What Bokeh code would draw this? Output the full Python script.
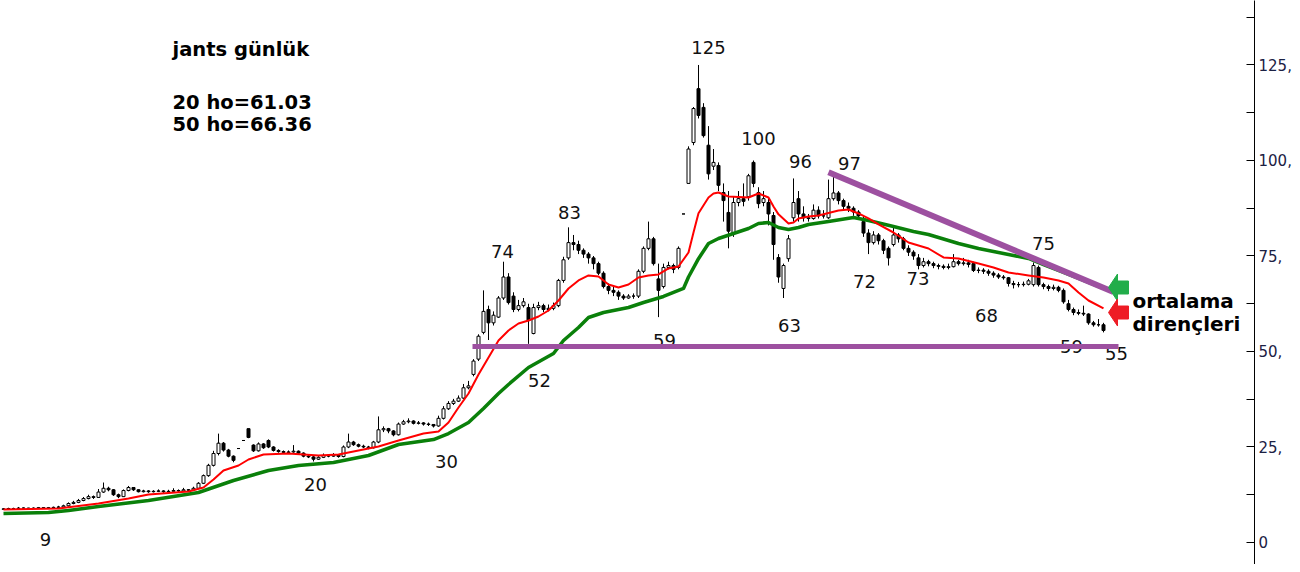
from bokeh.plotting import figure
from bokeh.models import ColumnDataSource, Range1d, FixedTicker
from bokeh.core.properties import value
from bokeh.embed import file_html
from bokeh.resources import INLINE

# ---------------- data (daily candles) ----------------
opens = [
    8.7, 8.8, 8.9, 8.9, 9.0, 9.0, 8.9, 9.0, 9.1, 9.0,
    9.1, 9.2, 9.3, 9.6, 10.2, 10.5, 11.0, 11.5, 12.0, 11.8,
    13.2, 14.2, 13.8, 12.5, 12.0, 13.6, 14.4, 13.8, 13.3, 13.5,
    13.3, 13.4, 13.5, 13.3, 13.4, 13.6, 13.5, 13.8, 13.7, 14.2,
    15.5, 17.5, 20.2, 23.3, 26.0, 24.2, 22.6, 24.6, 26.7, 29.8,
    25.5, 24.0, 25.8, 26.7, 25.0, 24.1, 23.8, 23.6, 23.7, 23.9,
    23.4, 22.6, 22.4, 21.8, 22.3, 22.8, 22.6, 22.9, 22.5, 25.0,
    26.3, 25.6, 25.2, 25.0, 24.8, 26.3, 29.5, 29.8, 29.2, 28.2,
    31.0, 31.6, 31.8, 31.2, 31.3, 31.0, 30.9, 30.5, 32.5, 35.0,
    36.4, 37.0, 37.8, 40.5, 44.0, 48.0, 55.0, 61.0, 57.5, 59.0,
    64.0, 69.5, 64.5, 61.0, 62.0, 61.5, 54.7, 61.5, 62.0, 61.0,
    61.3, 62.0, 68.6, 74.5, 78.5, 78.0, 76.5, 75.5, 74.5, 73.0,
    70.5, 67.0, 66.0, 65.5, 64.5, 64.0, 64.5, 64.5, 71.0, 77.0,
    79.5, 69.0, 67.0, 72.0, 72.5, 72.0, 86.0, 94.0, 104.7, 118.8,
    113.9, 104.0, 98.5, 98.7, 91.6, 86.4, 81.0, 89.0, 90.0, 90.5,
    99.5, 91.6, 89.0, 89.0, 85.6, 74.6, 66.5, 74.3, 85.0, 90.0,
    86.0, 85.0, 84.8, 87.0, 85.5, 85.0, 90.0, 91.5, 89.5, 88.0,
    87.5, 86.5, 84.0, 81.0, 78.5, 80.5, 79.0, 77.0, 78.0, 80.5,
    79.5, 77.0, 76.0, 74.5, 72.5, 73.5, 73.0, 72.5, 72.3, 72.0,
    72.2, 73.5, 73.0, 73.2, 73.0, 71.2, 71.3, 71.0, 70.5, 70.0,
    69.5, 69.3, 67.8, 67.5, 67.5, 67.6, 67.5, 72.0, 67.5, 67.0,
    66.5, 66.8, 66.0, 62.5, 61.0, 60.2, 60.0, 59.8, 57.5, 57.0,
    57.0,
]
highs = [
    9.0, 9.1, 9.1, 9.3, 9.2, 9.1, 9.2, 9.3, 9.2, 9.3,
    9.4, 9.6, 9.9, 10.5, 10.9, 11.4, 11.9, 12.5, 12.3, 14.0,
    15.7, 14.6, 14.0, 12.8, 13.9, 14.8, 14.5, 13.9, 13.8, 13.7,
    13.7, 13.9, 13.7, 13.8, 14.2, 13.9, 14.3, 14.0, 14.6, 15.8,
    17.8, 20.6, 24.0, 28.5, 26.3, 24.5, 22.8, 24.6, 26.7, 29.8,
    25.7, 26.2, 26.0, 27.0, 25.2, 24.4, 24.1, 24.1, 25.5, 24.1,
    23.6, 23.0, 22.7, 22.6, 23.3, 23.1, 23.4, 22.9, 25.4, 28.5,
    26.6, 25.9, 25.6, 25.3, 26.6, 33.0, 30.4, 30.0, 29.4, 31.4,
    32.1, 32.5, 32.0, 31.8, 31.5, 31.4, 31.0, 33.2, 35.7, 37.0,
    37.6, 38.5, 41.5, 42.3, 48.0, 54.5, 66.0, 62.0, 60.5, 64.5,
    73.5, 70.5, 65.5, 63.5, 64.0, 62.5, 62.5, 63.0, 62.5, 62.3,
    62.8, 69.0, 74.8, 82.5, 80.5, 79.0, 77.0, 76.0, 75.0, 73.5,
    71.0, 67.8, 67.0, 66.0, 65.0, 65.0, 65.2, 71.5, 77.5, 84.0,
    80.0, 73.0, 73.0, 73.5, 73.0, 77.5, 86.0, 103.7, 114.0, 125.0,
    115.0, 109.0, 103.0, 99.5, 94.0, 92.0, 90.5, 92.0, 94.0, 96.5,
    100.0, 93.0, 92.0, 90.0, 86.5, 75.5, 73.0, 80.5, 95.3, 92.0,
    88.0, 86.0, 88.5, 88.0, 87.0, 95.0, 96.3, 92.0, 90.0, 89.0,
    88.0, 87.0, 85.5, 82.0, 81.5, 81.0, 79.5, 77.5, 83.0, 81.0,
    80.0, 77.8, 76.5, 75.5, 74.5, 74.0, 73.5, 73.0, 72.8, 73.0,
    75.5, 74.0, 74.5, 74.0, 73.5, 72.0, 71.8, 71.5, 71.0, 70.5,
    70.0, 69.5, 68.5, 68.2, 68.3, 69.0, 73.3, 72.5, 68.0, 67.5,
    67.5, 67.2, 66.5, 63.5, 61.5, 61.0, 62.0, 60.0, 58.0, 58.5,
    57.5,
]
lows = [
    8.6, 8.7, 8.7, 8.8, 8.8, 8.7, 8.8, 8.9, 8.8, 8.9,
    9.0, 9.1, 9.2, 9.4, 10.0, 10.3, 10.8, 11.3, 11.4, 11.7,
    13.0, 13.4, 12.2, 11.6, 11.9, 13.4, 13.5, 13.1, 13.1, 13.0,
    13.1, 13.2, 13.0, 13.1, 13.3, 13.2, 13.4, 13.4, 13.6, 14.1,
    15.3, 17.2, 19.9, 22.8, 23.8, 22.3, 21.0, 24.6, 26.7, 27.3,
    23.7, 23.8, 24.5, 24.7, 23.8, 23.5, 23.3, 23.4, 23.5, 23.1,
    22.3, 22.1, 21.2, 21.6, 22.1, 22.3, 22.4, 22.2, 22.3, 24.7,
    25.3, 24.9, 24.7, 24.4, 24.6, 26.0, 28.9, 28.6, 27.8, 28.0,
    30.8, 31.2, 30.9, 30.9, 30.6, 30.5, 30.1, 30.3, 32.2, 34.7,
    36.0, 36.8, 37.6, 40.1, 43.5, 47.5, 54.5, 53.0, 56.8, 58.8,
    63.5, 62.3, 60.3, 60.5, 61.5, 52.0, 54.5, 60.8, 60.3, 60.5,
    60.8, 61.6, 68.0, 74.0, 76.5, 75.5, 74.5, 73.0, 71.5, 70.0,
    66.5, 65.0, 64.5, 63.5, 63.5, 63.8, 63.8, 64.0, 70.5, 76.5,
    72.5, 59.0, 66.5, 71.5, 70.5, 71.5, 86.0, 94.0, 104.0, 111.0,
    106.0, 95.0, 97.5, 92.0, 84.0, 77.0, 80.0, 88.0, 88.0, 89.5,
    93.0, 87.5, 88.0, 83.0, 74.0, 68.0, 64.0, 73.5, 84.0, 84.0,
    84.0, 84.0, 84.5, 84.8, 84.8, 84.7, 89.5, 88.5, 87.0, 86.5,
    85.5, 84.8, 80.0, 75.5, 78.0, 78.0, 75.5, 72.5, 77.5, 78.5,
    76.5, 75.0, 74.0, 71.5, 72.0, 72.3, 71.8, 71.5, 71.5, 71.5,
    72.0, 72.5, 72.5, 72.0, 70.8, 70.5, 70.3, 69.8, 69.3, 69.0,
    68.8, 67.0, 66.5, 66.8, 67.0, 67.3, 67.0, 67.0, 66.3, 65.8,
    66.0, 65.5, 62.5, 60.5, 59.5, 59.5, 59.3, 57.0, 56.5, 56.5,
    55.0,
]
closes = [
    8.8, 8.9, 8.9, 9.0, 9.0, 8.9, 9.0, 9.1, 9.0, 9.1,
    9.2, 9.3, 9.6, 10.2, 10.5, 11.0, 11.5, 12.0, 11.8, 13.2,
    14.2, 13.8, 12.5, 12.0, 13.6, 14.4, 13.8, 13.3, 13.5, 13.3,
    13.4, 13.5, 13.3, 13.4, 13.6, 13.5, 13.8, 13.7, 14.2, 15.5,
    17.5, 20.2, 23.3, 26.0, 24.2, 22.6, 21.5, 24.6, 26.7, 27.5,
    24.0, 25.8, 24.8, 25.0, 24.1, 23.8, 23.6, 23.7, 23.9, 23.4,
    22.6, 22.4, 21.8, 22.3, 22.8, 22.6, 22.9, 22.5, 25.0, 26.3,
    25.6, 25.2, 25.0, 24.8, 26.3, 29.5, 29.8, 29.2, 28.2, 31.0,
    31.6, 31.8, 31.2, 31.3, 31.0, 30.9, 30.5, 32.5, 35.0, 36.4,
    37.0, 37.8, 40.5, 41.0, 47.5, 54.0, 60.5, 57.5, 59.5, 64.0,
    69.5, 62.8, 61.0, 62.0, 63.0, 58.1, 61.5, 62.0, 61.0, 61.3,
    62.0, 68.6, 74.0, 78.5, 78.0, 76.5, 75.5, 74.5, 73.0, 70.5,
    67.0, 66.0, 65.5, 64.5, 64.0, 64.5, 64.5, 71.0, 77.0, 79.5,
    73.0, 66.0, 72.0, 72.5, 71.5, 77.0, 86.0, 103.0, 113.6, 111.8,
    106.5, 96.5, 99.5, 93.5, 89.5, 81.5, 89.0, 90.0, 89.3, 96.0,
    94.0, 88.7, 90.0, 86.0, 78.0, 69.5, 72.5, 79.5, 89.0, 86.0,
    85.0, 84.8, 87.0, 85.5, 85.5, 90.0, 91.5, 89.5, 88.0, 87.5,
    86.5, 85.5, 81.0, 78.5, 80.5, 79.0, 76.5, 74.5, 80.5, 79.5,
    77.0, 76.0, 75.0, 72.5, 73.5, 73.0, 72.5, 72.3, 72.0, 72.2,
    73.5, 73.0, 73.2, 72.8, 71.2, 71.3, 71.0, 70.5, 70.0, 69.5,
    69.3, 67.8, 67.5, 67.5, 67.6, 68.5, 72.5, 67.5, 67.0, 66.5,
    66.8, 66.0, 63.0, 61.0, 60.2, 60.0, 59.8, 57.5, 57.0, 57.0,
    55.5,
]

# 20-day moving average (bar index, value)
ma20_bar = [0, 11, 19, 25, 29, 37, 40, 42, 44, 47, 49, 52, 57, 63, 67, 71, 75, 79,
            84, 87, 89, 91, 93, 95, 97, 99, 101, 103, 105, 107, 109, 111, 113, 115,
            117, 119, 121, 123, 125, 127, 129, 131, 133, 135, 137, 138, 139, 141,
            142, 143, 145, 149, 151, 153, 154, 155, 157, 158, 159, 161, 163, 167,
            169, 171, 173, 175, 178, 181, 185, 188, 191, 195, 198, 201, 205, 208,
            211, 213, 215, 217, 220]
ma20 = [8.64, 8.90, 10.21, 11.52, 12.57, 13.35, 14.40, 16.49, 18.85, 20.16,
        21.73, 23.04, 23.30, 22.77, 23.04, 24.08, 25.13, 26.70, 28.53, 29.06,
        31.41, 35.34, 39.01, 43.98, 48.43, 52.88, 55.50, 57.33, 58.12, 59.16,
        60.73, 63.35, 66.49, 68.59, 69.90, 69.63, 67.54, 66.75, 67.54, 69.37,
        69.90, 70.16, 71.73, 72.25, 75.92, 81.15, 86.20, 90.31, 91.36, 91.62,
        90.58, 90.31, 91.36, 90.31, 87.96, 85.90, 83.51, 83.77, 84.82, 85.34,
        85.60, 86.91, 87.17, 86.13, 84.82, 83.25, 81.15, 78.53, 76.96, 74.61,
        74.35, 73.04, 71.99, 70.68, 69.90, 69.37, 68.59, 67.80, 65.45, 63.35,
        61.26]
# 50-day moving average (bar index, value)
ma50_bar = [0, 9, 13, 19, 29, 39, 46, 53, 59, 66, 73, 79, 86, 89, 93, 96, 99, 101,
            105, 110, 112, 115, 117, 120, 123, 125, 128, 132, 136, 137, 139, 141,
            143, 146, 149, 151, 153, 155, 157, 159, 161, 165, 170, 173, 178, 182,
            185, 189, 191, 195, 199, 202, 205, 208, 212, 216, 220]
ma50 = [7.59, 7.85, 8.38, 9.42, 10.99, 13.09, 16.23, 18.85, 20.16, 20.94,
        22.77, 25.65, 26.96, 28.53, 31.41, 35.08, 39.01, 41.36, 45.81, 49.48,
        52.88, 56.28, 58.90, 60.21, 60.99, 61.52, 62.83, 64.40, 66.49, 69.50,
        74.30, 78.27, 79.58, 80.89, 82.20, 83.51, 83.77, 82.46, 81.94, 82.46,
        83.25, 84.03, 85.08, 84.29, 82.72, 81.41, 80.63, 79.06, 78.27, 76.96,
        75.92, 75.13, 74.35, 72.77, 70.68, 68.59, 66.49]

# axis ticks
tick_values = [0, 25, 50, 75, 100, 125]
tick_labels = ["0", "25,", "50,", "75,", "100,", "125,"]
minor_values = [12.5, 37.5, 62.5, 87.5, 112.5, 137.5]

# price annotations (label, bar index, price level of the text centre)
note_text = ["125", "100", "96", "97", "74", "83", "59", "63", "72", "73",
             "68", "75", "59", "55", "52", "30", "20", "9"]
note_x = [141.0, 151.0, 159.4, 169.2, 99.8, 113.2, 132.2, 157.2, 172.2, 182.9,
          196.6, 208.0, 213.6, 222.6, 107.2, 88.6, 62.4, 8.4]
note_y = [129.7, 105.8, 99.8, 99.3, 76.3, 86.5, 53.0, 56.9, 68.4, 69.2,
          59.3, 78.4, 51.4, 49.6, 42.5, 21.3, 15.3, 0.9]

# trend lines (bar index, price)
support_x = [93.8, 223.0]
support_y = [51.3, 51.3]
resist_x = [165.0, 222.0]
resist_y = [96.9, 65.6]

# title block
title_lines = ["jants günlük", "20 ho=61.03", "50 ho=66.36"]
title_x = 33.8
title_y = [129.06, 115.18, 109.55]

# arrows pointing at MA resistances
arrow_tip_x = 221.0
arrow_tip_y = [66.75, 60.2]
arrow_colors = ["#22ad4a", "#ee1c25"]
side_text = ["ortalama", "dirençleri"]
side_x = 225.8
side_y = [63.09, 57.07]

# ---------------- figure ----------------
X0, X1 = -0.6, 250.2
Y0, Y1 = -5.76, 141.88
FW, FH = 1254, 564

p = figure(frame_width=FW, frame_height=FH,
           x_range=Range1d(X0, X1), y_range=Range1d(Y0, Y1),
           output_backend="svg", toolbar_location=None,
           y_axis_location="right", x_axis_location=None,
           min_border_left=0, min_border_top=0, min_border_bottom=0, min_border_right=0,
           outline_line_color=None, background_fill_color="white",
           border_fill_color="white")
p.grid.grid_line_color = None

idx = list(range(len(closes)))
src = ColumnDataSource(dict(
    x=idx, low=lows, high=highs,
    top=[max(o, c) for o, c in zip(opens, closes)],
    bottom=[min(o, c) for o, c in zip(opens, closes)],
    fill=["white" if c >= o else "black" for o, c in zip(opens, closes)],
))
p.segment(x0="x", y0="low", x1="x", y1="high", source=src, line_color="black", line_width=1)
p.vbar(x="x", width=0.6, top="top", bottom="bottom", source=src,
       fill_color="fill", line_color="black", line_width=1)

p.line(ma50_bar, ma50, line_color="#0a800a", line_width=3.5, line_join="round")
p.line(ma20_bar, ma20, line_color="#ff0000", line_width=2, line_join="round")

p.text(x=note_x, y=note_y, text=note_text, text_font=value("DejaVu Sans"),
       text_font_size=value("18px"), text_align="center", text_baseline="middle",
       text_color="#111111")

p.line(support_x, support_y, line_color="#9d50a0", line_width=5)
p.line(resist_x, resist_y, line_color="#9d50a0", line_width=6)

p.text(x=[title_x] * 3, y=title_y, text=title_lines, text_font=value("DejaVu Sans"),
       text_font_size=value("19.5px"), text_font_style="bold", text_align="left",
       text_baseline="middle", text_color="black")

# block arrows (shape given in pixels, converted into data units)
sx = FW / (X1 - X0)
sy = FH / (Y1 - Y0)
shape = [(0, 0), (9, 13.5), (9, 6.5), (20, 6.5), (20, -6.5), (9, -6.5), (9, -13.5)]
for ty, col in zip(arrow_tip_y, arrow_colors):
    p.patch([arrow_tip_x + dx / sx for dx, dy in shape],
            [ty + dy / sy for dx, dy in shape],
            fill_color=col, line_color=col, line_width=1)

p.text(x=[side_x] * 2, y=side_y, text=side_text, text_font=value("DejaVu Sans"),
       text_font_size=value("20px"), text_font_style="bold", text_align="left",
       text_baseline="middle", text_color="black")

ax = p.yaxis[0]
ax.ticker = FixedTicker(ticks=tick_values, minor_ticks=minor_values)
ax.major_label_overrides = {v: l for v, l in zip(tick_values, tick_labels)}
ax.major_tick_in = 8
ax.major_tick_out = 0
ax.minor_tick_in = 8
ax.minor_tick_out = 0
ax.axis_line_color = "black"
ax.major_tick_line_color = "black"
ax.minor_tick_line_color = "black"
ax.major_label_standoff = 4
ax.major_label_text_font = "DejaVu Sans"
ax.major_label_text_font_size = "15px"
ax.major_label_text_color = "#1b2143"

open("out.html", "w").write(file_html(p, INLINE))
